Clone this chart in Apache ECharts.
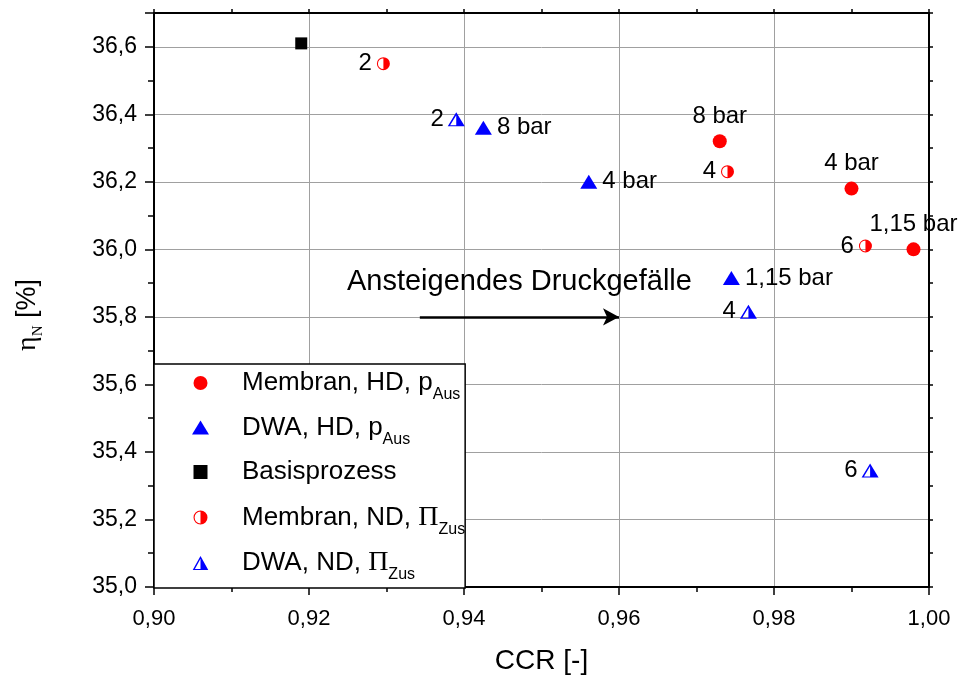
<!DOCTYPE html>
<html>
<head>
<meta charset="utf-8">
<script src="https://cdn.jsdelivr.net/npm/echarts@6/dist/echarts.min.js"></script>
<style>
  html, body { margin: 0; padding: 0; background: #fff; }
  #chart { width: 963px; height: 677px; }
</style>
</head>
<body>
<div id="chart"></div>
<script>
// values: [CCR, eta_N]
var membranHD = [[0.973, 36.32], [0.990, 36.18], [0.998, 36.00]];
var membranHDLabels = ['8 bar', '4 bar', '1,15 bar'];
var dwaHD = [[0.9425, 36.36], [0.9561, 36.20], [0.9745, 35.915]];
var dwaHDLabels = ['8 bar', '4 bar', '1,15 bar'];
var basis = [[0.919, 36.61]];
var membranND = [[0.9296, 36.55], [0.974, 36.23], [0.9918, 36.01]];
var membranNDLabels = ['2', '4', '6'];
var dwaND = [[0.939, 36.385], [0.9767, 35.815], [0.9924, 35.345]];
var dwaNDLabels = ['2', '4', '6'];

var arrowStart = [0.9343, 35.8];
var arrowEnd = [0.96, 35.8];
var arrowText = 'Ansteigendes Druckgefälle';

var xMin = 0.90, xMax = 1.00, xStep = 0.02;
var yMin = 35.0, yMax = 36.7, yStep = 0.2;

var seriesNames = ['Membran, HD, pAus', 'DWA, HD, pAus', 'Basisprozess', 'Membran, ND, PiZus', 'DWA, ND, PiZus'];
var legendText = [
  '{t|Membran, HD, p}{s|Aus}',
  '{t|DWA, HD, p}{s|Aus}',
  '{t|Basisprozess}{h|Aus}', // hidden sub keeps rows equal
  '{t|Membran, ND, }{pi|\u03A0}{s|Zus}',
  '{t|DWA, ND, }{pi|\u03A0}{s|Zus}'
];

var SANS = '"Liberation Sans", Arial, sans-serif';
var SERIF = '"Liberation Serif", "Times New Roman", serif';

// half filled symbols (right half filled)
var halfCircle = 'path://M10 0 A10 10 0 1 1 10 20 A10 10 0 1 1 10 0 Z ' +
  'M10 1.6 A8.4 8.4 0 1 0 10 18.4 A8.4 8.4 0 1 0 10 1.6 Z ' +
  'M10 0 A10 10 0 0 1 10 20 Z';
var halfTriangle = 'path://M10 0 L20 18 L0 18 Z M10 3.6 L2.8 16.6 L17.2 16.6 Z M10 0 L20 18 L10 18 Z';
var squareIcon = 'path://M0 0 L10 0 L10 10 L0 10 Z';

var dom = document.getElementById('chart');
var myChart = echarts.init(dom);

function comma(v, d) {
  return v.toFixed(d).replace('.', ',');
}

function labelOf(arr) {
  return function (p) { return arr[p.dataIndex]; };
}

var dataLabel = { color: '#000', fontSize: 24, fontFamily: SANS };

var option = {
  animation: false,
  backgroundColor: '#fff',
  textStyle: { fontFamily: SANS },
  grid: { left: 154, right: 34, top: 13, bottom: 90, containLabel: false, outerBoundsMode: 'none' },
  legend: {
    orient: 'vertical',
    left: 154,
    top: 364,
    selectedMode: false,
    itemWidth: 17,
    itemHeight: 14,
    itemGap: 11.5,
    padding: [6, 0, 5, 38],
    backgroundColor: '#fff',
    borderColor: '#000',
    borderWidth: 1.5,
    borderRadius: 0,
    data: [
      { name: seriesNames[0], icon: 'circle' },
      { name: seriesNames[1], icon: 'triangle' },
      { name: seriesNames[2], icon: squareIcon },
      { name: seriesNames[3], icon: halfCircle },
      { name: seriesNames[4], icon: halfTriangle }
    ],
    formatter: function (name) {
      return legendText[seriesNames.indexOf(name)];
    },
    textStyle: {
      padding: [0, 0, 0, 28],
      rich: {
        t: { fontSize: 26, lineHeight: 40, fontFamily: SANS, color: '#000' },
        pi: { fontSize: 28, lineHeight: 40, fontFamily: SERIF, color: '#000' },
        s: { fontSize: 16, lineHeight: 14, verticalAlign: 'bottom', fontFamily: SANS, color: '#000' },
        h: { fontSize: 16, lineHeight: 14, verticalAlign: 'bottom', fontFamily: SANS, color: 'rgba(0,0,0,0)' }
      }
    }
  },
  xAxis: [
    {
      type: 'value',
      min: xMin, max: xMax, interval: xStep,
      name: 'CCR [-]',
      nameLocation: 'middle',
      nameGap: 60,
      nameTextStyle: { fontSize: 28, color: '#000', fontFamily: SANS },
      axisLine: { lineStyle: { color: '#000', width: 2 } },
      axisTick: { inside: false, length: 8, lineStyle: { color: '#000', width: 1.5 } },
      minorTick: { show: true, splitNumber: 2, length: 5, lineStyle: { color: '#000', width: 1.5 } },
      splitLine: { show: true, lineStyle: { color: '#a0a0a0', width: 1 } },
      axisLabel: {
        margin: 21, fontSize: 22, color: '#000',
        formatter: function (v) { return comma(v, 2); }
      }
    },
    {
      type: 'value', position: 'top',
      min: xMin, max: xMax, interval: xStep,
      axisLine: { lineStyle: { color: '#000', width: 2 } },
      axisTick: { length: 4, lineStyle: { color: '#000', width: 1.5 } },
      minorTick: { show: true, splitNumber: 2, length: 4, lineStyle: { color: '#000', width: 1.5 } },
      splitLine: { show: false },
      axisLabel: { show: false }
    }
  ],
  yAxis: [
    {
      type: 'value',
      min: yMin, max: yMax, interval: yStep,
      name: '{e|\u03B7}{n|N}{t| [%]}',
      nameLocation: 'middle',
      nameGap: 108,
      nameRotate: 90,
      nameTextStyle: {
        padding: [0, 30, 0, 0],
        rich: {
          e: { fontSize: 28, fontFamily: SERIF, color: '#000', lineHeight: 36 },
          n: { fontSize: 15, fontFamily: SERIF, color: '#000', lineHeight: 14, verticalAlign: 'bottom' },
          t: { fontSize: 27, fontFamily: SANS, color: '#000', lineHeight: 36 }
        }
      },
      axisLine: { lineStyle: { color: '#000', width: 2 } },
      axisTick: { inside: false, length: 9, lineStyle: { color: '#000', width: 1.5 } },
      minorTick: { show: true, splitNumber: 2, length: 6, lineStyle: { color: '#000', width: 1.5 } },
      splitLine: { show: true, lineStyle: { color: '#a0a0a0', width: 1 } },
      axisLabel: {
        margin: 17, fontSize: 23, color: '#000',
        formatter: function (v) {
          var k = v / yStep;
          if (Math.abs(k - Math.round(k)) > 1e-6) return '';
          return comma(v, 1);
        }
      }
    },
    {
      type: 'value', position: 'right',
      min: yMin, max: yMax, interval: yStep,
      axisLine: { lineStyle: { color: '#000', width: 2 } },
      axisTick: { length: 4, lineStyle: { color: '#000', width: 1.5 } },
      minorTick: { show: true, splitNumber: 2, length: 4, lineStyle: { color: '#000', width: 1.5 } },
      splitLine: { show: false },
      axisLabel: { show: false }
    }
  ],
  series: [
    {
      name: seriesNames[0],
      type: 'scatter',
      symbol: 'circle',
      symbolSize: 14,
      itemStyle: { color: '#ff0000', opacity: 1 },
      data: membranHD,
      label: Object.assign({ show: true, position: 'top', distance: 6, formatter: labelOf(membranHDLabels) }, dataLabel),
      markLine: {
        silent: true,
        symbol: ['none', 'arrow'],
        symbolSize: [13, 16],
        lineStyle: { color: '#000', width: 2.5, type: 'solid' },
        label: {
          show: true,
          position: 'insideMiddleTop',
          distance: 20,
          formatter: arrowText,
          fontSize: 29,
          color: '#000',
          fontFamily: SANS
        },
        data: [[{ coord: arrowStart }, { coord: arrowEnd }]]
      }
    },
    {
      name: seriesNames[1],
      type: 'scatter',
      symbol: 'triangle',
      symbolSize: [17, 14],
      itemStyle: { color: '#0000ff', opacity: 1 },
      data: dwaHD,
      label: Object.assign({ show: true, position: 'right', distance: 5, formatter: labelOf(dwaHDLabels) }, dataLabel)
    },
    {
      name: seriesNames[2],
      type: 'scatter',
      symbol: 'rect',
      symbolSize: 12,
      itemStyle: { color: '#000', opacity: 1 },
      data: basis
    },
    {
      name: seriesNames[3],
      type: 'scatter',
      symbol: halfCircle,
      symbolSize: 13,
      itemStyle: { color: '#ff0000', opacity: 1 },
      data: membranND,
      label: Object.assign({ show: true, position: 'left', distance: 5, formatter: labelOf(membranNDLabels) }, dataLabel)
    },
    {
      name: seriesNames[4],
      type: 'scatter',
      symbol: halfTriangle,
      symbolSize: [17, 14],
      itemStyle: { color: '#0000ff', opacity: 1 },
      data: dwaND,
      label: Object.assign({ show: true, position: 'left', distance: 4, formatter: labelOf(dwaNDLabels) }, dataLabel)
    }
  ]
};

if (option && typeof option === 'object') {
  myChart.setOption(option, true);
}
</script>
</body>
</html>
